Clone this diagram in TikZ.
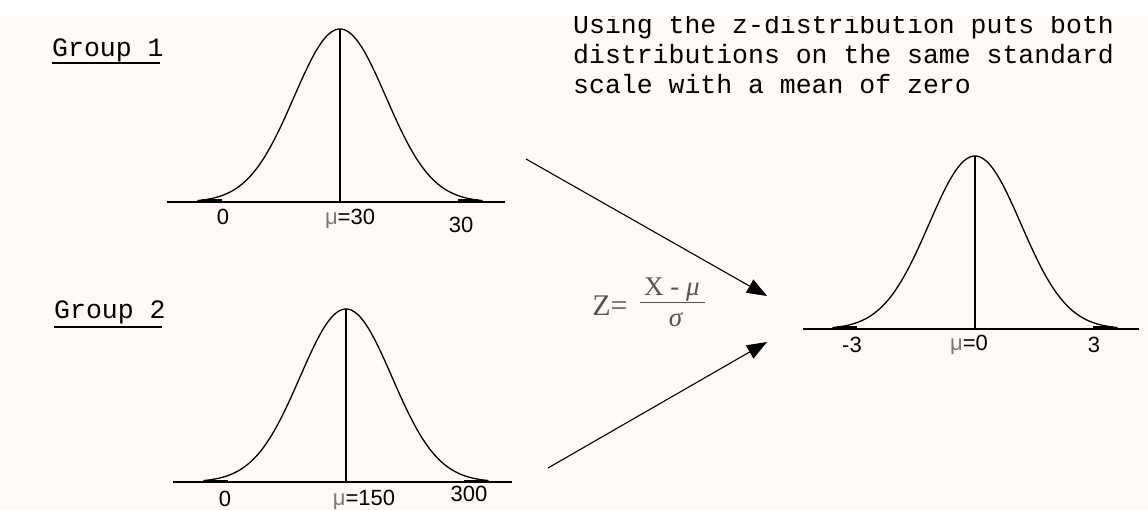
\documentclass[tikz,border=0pt]{standalone}
\usepackage{fontspec}
\setmainfont{Liberation Sans}
\newfontfamily\cour{Liberation Mono}
\newfontfamily\tms{Liberation Serif}
\usetikzlibrary{arrows.meta}
\definecolor{bgtint}{RGB}{255,250,248}
\definecolor{mugray}{RGB}{120,120,120}
\definecolor{frmgray}{RGB}{85,85,85}
\tikzset{
  curveline/.style={line width=1.3pt, black},
  axisline/.style={line width=1.8pt, black},
  meanline/.style={line width=1.6pt, black},
  tailline/.style={line width=3pt, black},
  lbl/.style={font=\fontsize{22}{24}\selectfont, inner sep=0pt, anchor=center},
  grp/.style={font=\cour\fontsize{26.5}{30}\selectfont, inner sep=0pt, anchor=base west},
  note/.style={font=\cour\fontsize{26.5}{30}\selectfont, inner sep=0pt, anchor=base west},
  frm/.style={font=\tms\fontsize{27}{29}\selectfont, text=frmgray, inner sep=0pt, anchor=center},
  conn/.style={line width=1.1pt, -{Triangle[length=20pt,width=15pt]}},
}
\newcommand{\mygauss}[3]{% cx, axis y, name
  \draw[curveline] plot[domain=-3.1:3.1, samples=90, smooth] ({#1+46*\x},{#2-173*exp(-0.5*\x*\x)});
  \draw[tailline] ({#1-138},{#2-1}) -- ({#1-118},{#2-1});
  \draw[tailline] ({#1+118},{#2-1}) -- ({#1+138},{#2-1});
  \coordinate (#3peak) at (#1,{#2-173});
  \coordinate (#3foot) at (#1,#2);
  \draw[meanline] (#3foot) -- (#3peak);
}
\begin{document}
\begin{tikzpicture}[x=1pt,y=-1pt]
\useasboundingbox (0,0) rectangle (1148,510);
\fill[bgtint] (0,0) rectangle (1148,510);

% Group 1
\node[grp] (g1t) at (52,57) {Group 1};
\draw[line width=1.8pt] (g1t.base west) ++(0,6) -- ++(108,0);
\coordinate (g1l) at (167,202);
\coordinate (g1r) at (505,202);
\draw[axisline] (g1l) -- (g1r);
\mygauss{340}{202}{g1}
\node[lbl] (g1a) at (223,217) {0};
\node[lbl] (g1b) at (350,219) {\textcolor{mugray}{μ}=30};
\node[lbl] (g1c) at (461,225) {30};

% Group 2
\node[grp] (g2t) at (54,319) {Group 2};
\draw[line width=1.8pt] (g2t.base west) ++(0,8) -- ++(108,0);
\coordinate (g2l) at (173,482);
\coordinate (g2r) at (512,482);
\draw[axisline] (g2l) -- (g2r);
\mygauss{346}{482}{g2}
\node[lbl] (g2a) at (225,499) {0};
\node[lbl] (g2b) at (364,500) {\textcolor{mugray}{μ}=150};
\node[lbl] (g2c) at (469,494) {300};

% Standard normal
\coordinate (zl) at (803,329);
\coordinate (zr) at (1139,329);
\draw[axisline] (zl) -- (zr);
\mygauss{975}{329}{z}
\node[lbl] (za) at (852,345) {-3};
\node[lbl] (zb) at (969,345) {\textcolor{mugray}{μ}=0};
\node[lbl] (zc) at (1094,345) {3};

% Note text
\node[note] (note1) at (573,34) {Using the z-distribution puts both};
\node[note] (note2) at (573,64) {distributions on the same standard};
\node[note] (note3) at (573,94) {scale with a mean of zero};
\fill[white] (0,0) rectangle (1148,16);

% Formula
\node[frm, font=\tms\fontsize{30}{32}\selectfont] (fz) at (610,306) {Z=};
\node[frm] (fnum) at (672,290) {X - \textit{μ}};
\coordinate (fbl) at (640,303);
\coordinate (fbr) at (705,303);
\draw[line width=1pt, frmgray] (fbl) -- (fbr);
\node[frm] (fden) at (676,320) {\textit{σ}};

% Arrows
\coordinate (a1s) at (526,159);
\coordinate (a1e) at (767,296);
\coordinate (a2s) at (548,468);
\coordinate (a2e) at (767,342);
\draw[conn] (a1s) -- (a1e);
\draw[conn] (a2s) -- (a2e);
\end{tikzpicture}
\end{document}
